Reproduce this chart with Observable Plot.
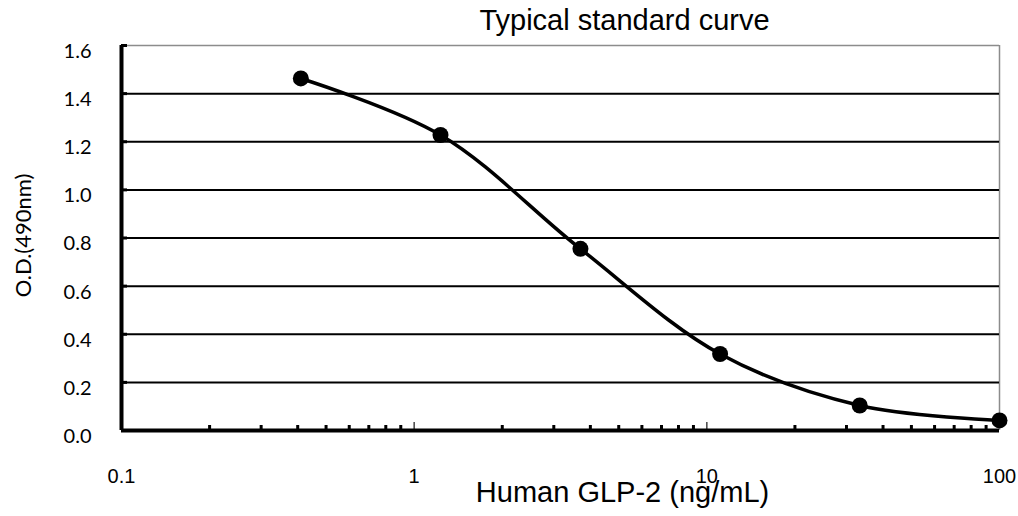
<!DOCTYPE html>
<html>
<head>
<meta charset="utf-8">
<script src="https://cdn.jsdelivr.net/npm/d3@7"></script>
<script src="https://cdn.jsdelivr.net/npm/@observablehq/plot@0.6"></script>
<style>
  html, body { margin: 0; padding: 0; background: #fff; }
</style>
</head>
<body>
<div id="chart"></div>
<script>
// Data
const concentration = [0.41, 1.23, 3.7, 11.1, 33.3, 100];   // Human GLP-2 (ng/mL)
const od490 = [1.463, 1.228, 0.755, 0.318, 0.104, 0.042];   // O.D. (490nm)
const xMajorTicks = [0.1, 1, 10, 100];
const xMinorTicks = [0.2, 0.3, 0.4, 0.5, 0.6, 0.7, 0.8, 0.9, 2, 3, 4, 5, 6, 7, 8, 9, 20, 30, 40, 50, 60, 70, 80, 90];
const yTicks = [0, 0.2, 0.4, 0.6, 0.8, 1.0, 1.2, 1.4, 1.6];
const yGrid = [0.2, 0.4, 0.6, 0.8, 1.0, 1.2, 1.4];
const titleText = "Typical standard curve";
const xLabel = "Human GLP-2 (ng/mL)";
const yLabel = "O.D.(490nm)";

const data = concentration.map((c, i) => ({x: c, y: od490[i]}));
const arial = "Liberation Sans, Arial, sans-serif";
const calibri = "Lato, Carlito, Calibri, sans-serif";
const fmtY = d3.format(".1f");

const chart = Plot.plot({
  width: 1018,
  height: 516,
  marginLeft: 121,
  marginRight: 19,
  marginTop: 45,
  marginBottom: 86,
  style: {background: "#fff", color: "#000", fontFamily: arial},
  x: {type: "log", domain: [0.1, 100], axis: null},
  y: {domain: [0, 1.6], axis: null},
  marks: [
    // plot area borders and gridlines
    Plot.ruleY([1.6], {stroke: "#8c8c8c", strokeWidth: 1.5}),
    Plot.ruleX([100], {stroke: "#8c8c8c", strokeWidth: 1.5}),
    Plot.ruleY(yGrid, {stroke: "#000", strokeWidth: 2}),
    // y axis inward ticks
    Plot.axisY({ticks: yTicks, tickSize: -6, strokeWidth: 3, text: null, label: null}),
    // y tick labels
    Plot.text(yTicks, {y: d => d, text: d => fmtY(d), frameAnchor: "left", textAnchor: "end", lineAnchor: "middle",
      dx: -30, dy: 6, fontSize: 20, fontFamily: calibri, fill: "#000"}),
    // x axis: inward minor ticks, taller decade ticks
    Plot.axisX({ticks: xMinorTicks, tickSize: -5, strokeWidth: 3, text: null, label: null}),
    Plot.axisX({ticks: [1, 10], tickSize: -8, strokeWidth: 1.5, stroke: "#444", text: null, label: null}),
    // x tick labels
    Plot.text(xMajorTicks, {x: d => d, text: d => String(d), frameAnchor: "bottom", textAnchor: "middle", lineAnchor: "top",
      dy: 38, fontSize: 20, fontFamily: arial, fill: "#000"}),
    // thick axis lines
    Plot.ruleY([0], {stroke: "#000", strokeWidth: 4}),
    Plot.ruleX([0.1], {stroke: "#000", strokeWidth: 4}),
    // curve and points
    Plot.line(data, {x: "x", y: "y", curve: "catmull-rom", stroke: "#000", strokeWidth: 3.5}),
    Plot.dot(data, {x: "x", y: "y", r: 8, fill: "#000", stroke: "none"}),
    // titles
    Plot.text([titleText], {text: d => d, frameAnchor: "top", textAnchor: "middle", lineAnchor: "middle",
      dx: 64, dy: -25, fontSize: 29, fontFamily: arial, fill: "#000"}),
    Plot.text([xLabel], {text: d => d, frameAnchor: "bottom", textAnchor: "middle", lineAnchor: "middle",
      dx: 62, dy: 62, fontSize: 29, fontFamily: arial, fill: "#000"}),
    Plot.text([yLabel], {text: d => d, frameAnchor: "left", textAnchor: "middle", lineAnchor: "middle",
      rotate: -90, dx: -98, dy: -2.5, fontSize: 22, fontFamily: calibri, fill: "#000"})
  ]
});

document.getElementById("chart").appendChild(chart);
</script>
</body>
</html>
